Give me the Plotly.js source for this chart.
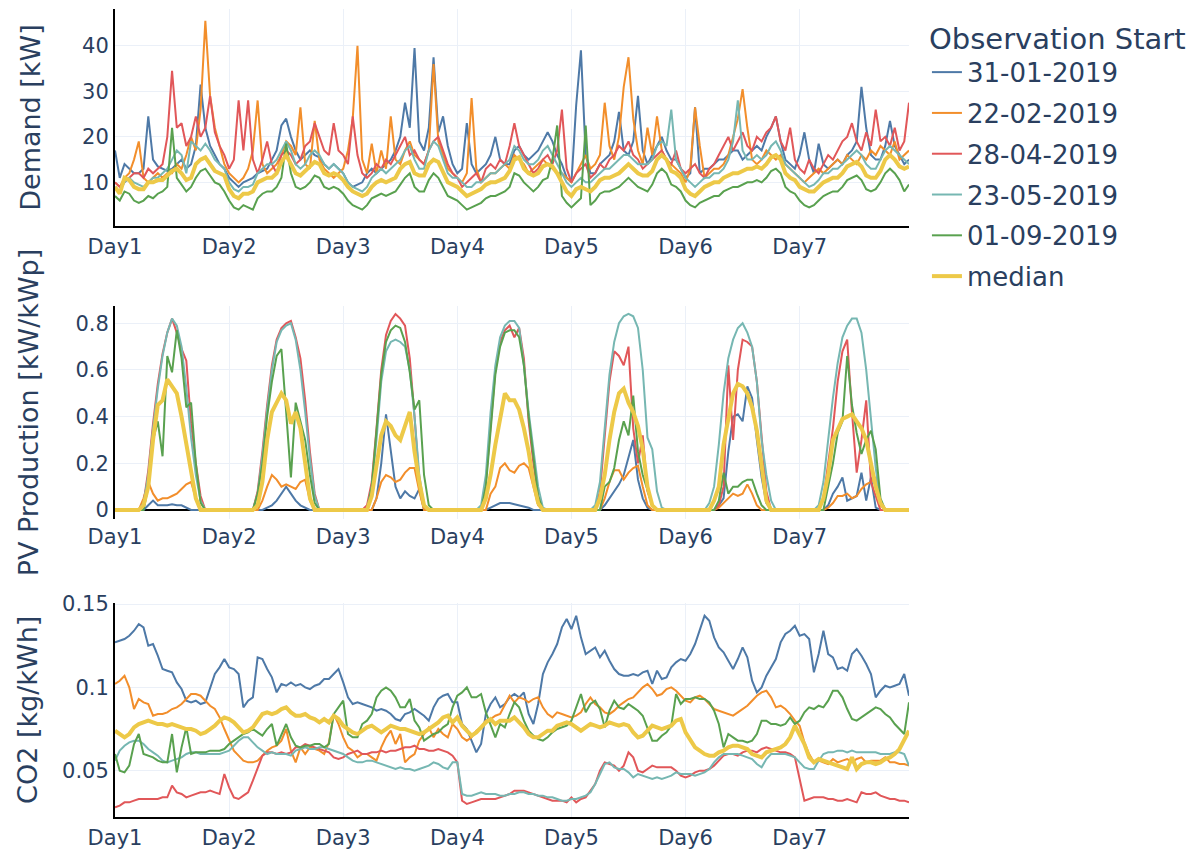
<!DOCTYPE html>
<html>
<head>
<meta charset="utf-8">
<script src="https://cdn.plot.ly/plotly-3.0.1.min.js"></script>
<style>html,body{margin:0;padding:0;background:#fff;}#chart{width:1201px;height:854px;}</style>
</head>
<body>
<div id="chart"></div>
<script>
// ---------- categories ----------
const seriesNames = ['31-01-2019', '22-02-2019', '28-04-2019', '23-05-2019', '01-09-2019', 'median'];
const dayTickVals = [0, 24, 48, 72, 96, 120, 144];
const dayTickText = ['Day1', 'Day2', 'Day3', 'Day4', 'Day5', 'Day6', 'Day7'];

// ---------- Demand [kW], hourly, one row per day ----------
const demand_3101 = [
17,11,14,13,12,12,13,24.5,15,13.5,13,12.5,13,14,15,13,14,18,31.5,22,18,16,14,13,
11,10,9,10,10.5,11,12,12.5,13,15,17,22.5,24,20,17,15,16,17,16,15.5,14,13,14,13,
12,10,9,9.5,10,12,13,12,13,14,15,17,20,27.5,22,39.5,19,17,22,37.5,21,24.5,18,14,
12,13,23,14,12,13,14,16,20,15,14,14,17,18,16,15,16,17,19,21,19,16,14,11,
10,27,39,16,12,12,14,15,16,19,25.5,17,16,19,29,17,14,16,18,20,17,15,15,13,
11,12,26.5,12,13,13,14,15,15,16,17,17,15,16,17,18,17,20,22,24.5,19,15,14,13,
16,21,15,12,18.5,14,13,14,15,14,16,17,19,31,22,16,15,15,18,23.5,18,16,14,15];
const demand_2202 = [
10,9,11,12,15,19,11,10,11,12,11,12,12,14,13,16,20,17,26,45.5,29,22,18,14,
12,11,10,11,13,17,28,14,12,13,14,16,19,18,16,26.5,14,13,23.5,15,13,12,11,12,
13,17,24,40,15,12,18.5,12,17,13,24.5,15,14,17,19,16,15,14,17,36,19,16,13,12,
11,10,12,28.5,13,10,11,12,12,13,14,13,16,15,14,12,13,14,15,14,13,12,12,11,
10,12,14,16,13,14,16,27.5,18,15,20,31,37.5,24,17,14,22,16,24.5,17,15,14,13,12,
10,13,26.5,18,11,12,13,13,14,16,20,24,30.5,22,15,14,15,17,16,15,16,14,13,12,
11,10,11,12,13,12,13,14,15,14,16,15,14,16,15,17,16,18,17,16,19,15,16,17];
const demand_2804 = [
10,9,10,11,12,12,11,13,12,13,14,20,34.5,22,23,18,20,24.5,20,22,29,21,18,16,
13,15,28,17,28,15,12,15,19,14,12,16,17,16,14,15,18,19,23,20,17,16,23,17,
16,14,24.5,16,12,11,12,14,13,15,14,16,18,20,16,17,15,14,17,19,20,17,14,12,
11,9,10,11,12,10,13,14,13,15,14,18,23,18,16,14,12,13,15,16,14,17,26,13,
10,12,13,14,11,12,14,13,15,16,18,17,19,16,15,13,14,15,16,17,15,14,17,13,
12,13,14,12,11,13,14,16,18,20,17,19,21,18,17,20,19,21,22,24.5,19,17,22,15,
13,12,15,13,12,14,16,15,17,19,20,23,19,17,21,18,26,19,20,18,22,17,19,27.5];
const demand_2305 = [
9,8,10,11,10,9.5,9,10,11,11,12,13,15,17,16,12,19,18,17,18.5,17,15,14,13,
10,8.5,8,9,9,9.5,12,13,14,14,15,17,19,17,14,13,14,16,17,16,14,13,14,13,
12,10,9,8.5,8,9,11,12,13,12,13,14,15,17,18,15,13,13,17,19,18,15,12,11,
11,10,9,9,10,10,11,12,12,13,14,15,18,17,15,14,14,15,17,18,16,14,12,10,
9,10,11,10,10,11,12,13,13,14,15,16,16,15,14,14,14,15,18,19,18,26,15,13,
11,10,9,10,11,11,12,12,13,15,19,28,17,15,15,16,15,16,18,19,17,14,13,12,
11,10,9,9.5,10.5,12,12,13,13,14,15,16,17,16,14,13,13,15,17,18,17,16,15,14];
const demand_0109 = [
7,6,8,7.5,6,5.5,6,7,6.5,7.5,8,9,22,11,9.5,8,9,11,12.5,13,11.5,10,9.5,8,
6,4.5,4,5,4.5,4,6.5,7.5,8,8,9,11,18.5,12,9,8.5,9,10,11.5,11,9,8.5,9,8.5,
7.5,6,5,4.5,4,5,6.5,7,7.5,7,7.5,8,9.5,11,12,9,8,8,10.5,12,11,9,7,6.5,
6,5,4,4.5,5,5.5,6.5,7,7,7.5,8,9,12,11.5,10,9,8,9,10.5,11,15,22.5,7,5.5,
4.5,5.5,6.5,22.5,5,6,7.5,8,8,8.5,9,10,11,10,9,8.5,8,9.5,12,13,12,9.5,9,8,
6,5,4.5,5.5,6,6.5,7,7,8,8.5,9,9,9.5,10,10,10.5,10,11,12.5,13,12,9,8,7.5,
6,5,4.5,5,6,7,7.5,8,8,9,10.5,11,11.5,10.5,8.5,8,8.5,10,12,13,12,10.5,8,9.5];
const demand_median = [
9,7.5,11,10.5,9,8.5,8.5,10,10,10.5,10.5,11.5,12.5,13,12,10.5,11,14,15,15.5,14,12.5,12,11.5,
8.5,7,6.5,7.5,7.5,8,10,10.5,11,11,12,14.5,16,14,12,11.5,12.5,13.5,14.5,14,12,11.5,12,11.5,
10.5,9,8,7.5,7,7.5,9,10,10.5,10,10.5,11,13,14,14.5,12,11.5,11.5,14,15,14.5,12,10,9.5,
9,8,7,7.5,8,8.5,9.5,10,10,10.5,11,12.5,15,15.5,13,12,11.5,12,13.5,14,13.5,12,10,8,
7,8.5,9,8.5,8,9,10.5,11,11,11.5,12,13,14,13,12,11.5,11.5,12.5,15,16,15,12.5,12,11,
8.5,7.5,7,8,9,9.5,10,10,11,11.5,12,12,12.5,13,13,13.5,13,14,15.5,16,15,12,11,10.5,
9,8.5,8,8,9,10,10.5,11,11,12,13.5,14,14.5,13.5,11.5,11,11,12.5,15,16,15,13.5,13,13.5];

// ---------- PV Production [kW/kWp], hourly ----------
const pv_3101 = [
0,0,0,0,0,0,0,0.02,0.04,0.02,0.02,0.02,0.025,0.02,0.02,0.01,0,0,0,0,0,0,0,0,
0,0,0,0,0,0,0,0,0.01,0.02,0.04,0.07,0.1,0.07,0.04,0.02,0.01,0,0,0,0,0,0,0,
0,0,0,0,0,0,0,0.05,0.2,0.41,0.25,0.1,0.05,0.08,0.06,0.05,0.09,0,0,0,0,0,0,0,
0,0,0,0,0,0,0,0.01,0.02,0.03,0.03,0.03,0.025,0.02,0.015,0.01,0,0,0,0,0,0,0,0,
0,0,0,0,0,0,0,0.02,0.05,0.08,0.11,0.15,0.22,0.3,0.13,0.05,0.01,0,0,0,0,0,0,0,
0,0,0,0,0,0,0,0.02,0.05,0.25,0.4,0.41,0.38,0.53,0.48,0.3,0.14,0.03,0,0,0,0,0,0,
0,0,0,0,0,0,0.02,0.07,0.1,0.14,0.04,0.05,0.06,0.16,0.04,0.14,0.01,0,0,0,0,0,0,0];
const pv_2202 = [
0,0,0,0,0,0,0.05,0.12,0.07,0.04,0.05,0.05,0.06,0.07,0.09,0.11,0.12,0.05,0,0,0,0,0,0,
0,0,0,0,0,0,0,0.04,0.1,0.15,0.13,0.1,0.11,0.1,0.09,0.12,0.13,0.04,0,0,0,0,0,0,
0,0,0,0,0,0,0,0.05,0.12,0.15,0.14,0.12,0.13,0.16,0.18,0.18,0.08,0,0,0,0,0,0,0,
0,0,0,0,0,0,0,0.07,0.1,0.18,0.2,0.17,0.16,0.19,0.2,0.18,0.1,0.02,0,0,0,0,0,0,
0,0,0,0,0,0,0,0.05,0.12,0.17,0.17,0.13,0.16,0.18,0.19,0.1,0.02,0,0,0,0,0,0,0,
0,0,0,0,0,0,0,0.01,0.03,0.05,0.07,0.06,0.07,0.11,0.07,0.02,0,0,0,0,0,0,0,0,
0,0,0,0,0,0,0.01,0.03,0.06,0.06,0.07,0.05,0.06,0.09,0.11,0.12,0.14,0.02,0,0,0,0,0,0];
const pv_2804 = [
0,0,0,0,0,0,0.03,0.17,0.37,0.54,0.67,0.76,0.82,0.76,0.69,0.64,0.37,0.2,0.06,0,0,0,0,0,
0,0,0,0,0,0,0.08,0.25,0.45,0.62,0.73,0.78,0.8,0.81,0.74,0.65,0.47,0.25,0.07,0,0,0,0,0,
0,0,0,0,0,0.02,0.12,0.35,0.6,0.75,0.81,0.84,0.82,0.79,0.65,0.4,0.12,0.02,0,0,0,0,0,0,
0,0,0,0,0,0,0.12,0.38,0.6,0.72,0.77,0.79,0.74,0.78,0.65,0.38,0.2,0.06,0,0,0,0,0,0,
0,0,0,0,0,0,0.08,0.3,0.55,0.68,0.66,0.62,0.7,0.35,0.2,0.32,0.08,0.02,0,0,0,0,0,0,
0,0,0,0,0,0,0,0.02,0.1,0.62,0.3,0.6,0.73,0.72,0.7,0.55,0.3,0.08,0,0,0,0,0,0,
0,0,0,0,0,0.05,0.2,0.35,0.55,0.68,0.73,0.42,0.16,0.3,0.47,0.12,0.06,0,0,0,0,0,0,0];
const pv_2305 = [
0,0,0,0,0,0,0.03,0.15,0.35,0.52,0.66,0.76,0.82,0.79,0.7,0.52,0.31,0.15,0.04,0,0,0,0,0,
0,0,0,0,0,0,0.07,0.23,0.43,0.6,0.72,0.77,0.79,0.8,0.73,0.6,0.42,0.22,0.06,0,0,0,0,0,
0,0,0,0,0,0,0.1,0.3,0.55,0.68,0.72,0.73,0.72,0.7,0.6,0.4,0.15,0.02,0,0,0,0,0,0,
0,0,0,0,0,0.02,0.15,0.42,0.62,0.74,0.79,0.81,0.81,0.78,0.62,0.42,0.26,0.1,0.01,0,0,0,0,0,
0,0,0,0,0,0.02,0.12,0.35,0.58,0.72,0.8,0.83,0.84,0.83,0.78,0.6,0.31,0.26,0.08,0.01,0,0,0,0,
0,0,0,0,0,0.03,0.1,0.28,0.5,0.65,0.73,0.78,0.8,0.76,0.7,0.55,0.3,0.15,0.04,0,0,0,0,0,
0,0,0,0,0.02,0.12,0.3,0.48,0.63,0.74,0.79,0.82,0.82,0.76,0.6,0.38,0.18,0.03,0,0,0,0,0,0];
const pv_0109 = [
0,0,0,0,0,0,0,0.1,0.3,0.38,0.23,0.66,0.59,0.77,0.65,0.44,0.46,0.2,0.03,0,0,0,0,0,
0,0,0,0,0,0,0.07,0.2,0.4,0.55,0.66,0.69,0.42,0.14,0.46,0.38,0.3,0.15,0.03,0,0,0,0,0,
0,0,0,0,0,0,0.1,0.33,0.58,0.72,0.77,0.79,0.78,0.72,0.59,0.43,0.47,0.15,0.02,0,0,0,0,0,
0,0,0,0,0,0,0.1,0.35,0.58,0.7,0.76,0.77,0.77,0.74,0.62,0.4,0.22,0.06,0,0,0,0,0,0,
0,0,0,0,0,0,0,0.1,0.12,0.18,0.3,0.38,0.32,0.49,0.25,0.15,0.08,0.02,0,0,0,0,0,0,
0,0,0,0,0,0,0,0.04,0.16,0.07,0.1,0.1,0.12,0.13,0.13,0.07,0.02,0,0,0,0,0,0,0,
0,0,0,0,0,0,0.1,0.2,0.33,0.38,0.66,0.45,0.33,0.24,0.3,0.34,0.26,0.05,0,0,0,0,0,0];
const pv_median = [
0,0,0,0,0,0,0.02,0.1,0.3,0.45,0.47,0.56,0.53,0.5,0.4,0.28,0.15,0.05,0,0,0,0,0,0,
0,0,0,0,0,0,0.02,0.12,0.3,0.42,0.46,0.5,0.47,0.37,0.42,0.35,0.2,0.05,0,0,0,0,0,0,
0,0,0,0,0,0,0.06,0.2,0.32,0.38,0.36,0.32,0.3,0.36,0.42,0.25,0.12,0.02,0,0,0,0,0,0,
0,0,0,0,0,0,0.05,0.15,0.28,0.4,0.5,0.47,0.47,0.43,0.35,0.25,0.12,0.03,0,0,0,0,0,0,
0,0,0,0,0,0,0.05,0.15,0.3,0.42,0.5,0.52,0.46,0.42,0.36,0.26,0.1,0.02,0,0,0,0,0,0,
0,0,0,0,0,0,0.04,0.1,0.28,0.4,0.5,0.54,0.53,0.5,0.44,0.34,0.18,0.04,0,0,0,0,0,0,
0,0,0,0,0,0.05,0.15,0.3,0.35,0.39,0.4,0.41,0.38,0.35,0.3,0.2,0.1,0.03,0,0,0,0,0,0];

// ---------- CO2 [kg/kWh], hourly ----------
const co2_3101 = [
0.127,0.128,0.129,0.131,0.134,0.138,0.136,0.125,0.126,0.119,0.111,0.110,0.109,0.103,0.099,0.092,0.091,0.092,0.090,0.091,0.100,0.108,0.112,0.117,
0.112,0.111,0.108,0.088,0.092,0.094,0.118,0.117,0.111,0.106,0.097,0.102,0.101,0.103,0.101,0.102,0.100,0.099,0.101,0.102,0.105,0.105,0.108,0.111,
0.103,0.094,0.090,0.091,0.090,0.089,0.088,0.086,0.087,0.086,0.084,0.081,0.080,0.084,0.085,0.087,0.085,0.083,0.080,0.088,0.093,0.095,0.096,0.091,
0.091,0.078,0.075,0.068,0.061,0.066,0.084,0.090,0.094,0.088,0.090,0.094,0.096,0.094,0.097,0.084,0.078,0.090,0.108,0.115,0.120,0.126,0.136,0.141,
0.135,0.143,0.130,0.120,0.122,0.124,0.118,0.122,0.116,0.111,0.108,0.107,0.107,0.108,0.107,0.109,0.110,0.102,0.110,0.105,0.106,0.112,0.115,0.117,
0.116,0.120,0.126,0.134,0.143,0.140,0.130,0.124,0.121,0.116,0.111,0.117,0.124,0.118,0.104,0.097,0.100,0.107,0.112,0.117,0.127,0.132,0.134,0.137,
0.131,0.132,0.129,0.109,0.120,0.134,0.120,0.118,0.111,0.112,0.110,0.120,0.123,0.119,0.114,0.108,0.094,0.098,0.101,0.100,0.101,0.102,0.108,0.095];
const co2_2202 = [
0.102,0.104,0.107,0.100,0.087,0.093,0.091,0.090,0.083,0.084,0.084,0.085,0.087,0.088,0.090,0.093,0.096,0.096,0.095,0.092,0.089,0.087,0.082,0.075,
0.069,0.062,0.059,0.056,0.055,0.055,0.056,0.059,0.062,0.064,0.065,0.068,0.075,0.062,0.055,0.064,0.060,0.064,0.063,0.062,0.060,0.067,0.084,0.078,
0.070,0.064,0.062,0.058,0.060,0.060,0.058,0.056,0.064,0.070,0.074,0.066,0.072,0.055,0.058,0.060,0.068,0.072,0.076,0.070,0.075,0.072,0.070,0.078,
0.075,0.070,0.068,0.070,0.074,0.076,0.080,0.081,0.083,0.084,0.090,0.095,0.091,0.094,0.093,0.091,0.093,0.094,0.088,0.084,0.082,0.085,0.084,0.083,
0.082,0.083,0.085,0.090,0.094,0.090,0.088,0.085,0.084,0.086,0.089,0.091,0.093,0.094,0.097,0.100,0.102,0.099,0.095,0.096,0.099,0.100,0.098,0.095,
0.092,0.091,0.094,0.095,0.093,0.090,0.087,0.086,0.085,0.084,0.083,0.085,0.087,0.089,0.092,0.095,0.097,0.098,0.094,0.088,0.089,0.087,0.084,0.080,
0.077,0.067,0.060,0.055,0.056,0.055,0.054,0.057,0.055,0.056,0.057,0.055,0.057,0.058,0.055,0.056,0.056,0.056,0.058,0.055,0.055,0.054,0.054,0.053];
const co2_2804 = [
0.028,0.029,0.031,0.031,0.032,0.033,0.033,0.033,0.033,0.033,0.034,0.034,0.041,0.037,0.036,0.034,0.035,0.036,0.037,0.037,0.038,0.037,0.036,0.048,
0.040,0.034,0.033,0.035,0.037,0.044,0.051,0.059,0.061,0.061,0.060,0.061,0.060,0.061,0.064,0.064,0.066,0.065,0.064,0.063,0.062,0.061,0.058,0.057,
0.058,0.060,0.061,0.062,0.060,0.060,0.061,0.061,0.062,0.061,0.062,0.062,0.063,0.064,0.064,0.065,0.063,0.063,0.062,0.062,0.063,0.062,0.061,0.059,
0.055,0.032,0.030,0.031,0.032,0.033,0.033,0.033,0.033,0.034,0.035,0.036,0.038,0.038,0.038,0.037,0.036,0.035,0.034,0.033,0.032,0.032,0.032,0.031,
0.034,0.031,0.033,0.034,0.038,0.042,0.050,0.055,0.054,0.053,0.050,0.053,0.061,0.058,0.050,0.049,0.051,0.053,0.052,0.052,0.052,0.052,0.050,0.047,
0.046,0.047,0.049,0.050,0.050,0.051,0.053,0.056,0.059,0.060,0.060,0.059,0.061,0.062,0.062,0.061,0.063,0.064,0.063,0.062,0.061,0.061,0.060,0.058,
0.045,0.032,0.033,0.034,0.034,0.034,0.033,0.033,0.032,0.032,0.033,0.032,0.031,0.037,0.036,0.036,0.037,0.035,0.034,0.033,0.033,0.032,0.032,0.031];
const co2_2305 = [
0.056,0.062,0.065,0.067,0.068,0.068,0.066,0.063,0.061,0.059,0.056,0.055,0.056,0.057,0.058,0.060,0.061,0.061,0.060,0.060,0.060,0.060,0.060,0.061,
0.062,0.065,0.068,0.070,0.070,0.067,0.064,0.062,0.060,0.061,0.060,0.060,0.060,0.059,0.062,0.063,0.064,0.063,0.063,0.064,0.064,0.063,0.062,0.061,
0.060,0.058,0.056,0.055,0.055,0.056,0.056,0.055,0.054,0.053,0.052,0.051,0.052,0.051,0.051,0.050,0.051,0.052,0.053,0.055,0.054,0.052,0.051,0.055,
0.055,0.036,0.035,0.035,0.036,0.037,0.036,0.036,0.036,0.035,0.035,0.036,0.036,0.037,0.037,0.036,0.036,0.035,0.035,0.034,0.034,0.033,0.032,0.032,
0.033,0.033,0.034,0.035,0.037,0.042,0.048,0.054,0.055,0.052,0.051,0.051,0.049,0.046,0.048,0.047,0.046,0.045,0.046,0.045,0.046,0.047,0.049,0.048,
0.048,0.048,0.047,0.048,0.049,0.051,0.055,0.058,0.060,0.060,0.060,0.060,0.059,0.058,0.057,0.054,0.052,0.057,0.060,0.060,0.060,0.060,0.059,0.058,
0.055,0.052,0.051,0.051,0.056,0.060,0.061,0.061,0.062,0.062,0.061,0.062,0.061,0.061,0.061,0.061,0.061,0.060,0.060,0.060,0.061,0.061,0.060,0.053];
const co2_0109 = [
0.060,0.050,0.049,0.053,0.066,0.072,0.060,0.059,0.058,0.056,0.055,0.055,0.072,0.049,0.064,0.076,0.060,0.061,0.061,0.061,0.062,0.062,0.062,0.063,
0.066,0.068,0.070,0.072,0.073,0.075,0.073,0.071,0.075,0.078,0.065,0.072,0.078,0.070,0.065,0.064,0.065,0.065,0.066,0.066,0.064,0.066,0.084,0.088,
0.092,0.072,0.070,0.070,0.078,0.080,0.084,0.094,0.098,0.100,0.098,0.094,0.088,0.088,0.093,0.080,0.076,0.068,0.070,0.072,0.073,0.076,0.078,0.088,
0.095,0.097,0.100,0.094,0.094,0.096,0.085,0.077,0.070,0.078,0.076,0.084,0.091,0.088,0.080,0.074,0.071,0.069,0.068,0.070,0.073,0.075,0.076,0.077,
0.080,0.088,0.096,0.085,0.090,0.092,0.087,0.076,0.086,0.092,0.088,0.087,0.090,0.088,0.086,0.083,0.075,0.068,0.068,0.071,0.073,0.077,0.096,0.090,
0.093,0.093,0.094,0.093,0.093,0.091,0.086,0.078,0.064,0.072,0.070,0.068,0.068,0.067,0.068,0.072,0.080,0.080,0.078,0.078,0.077,0.078,0.082,0.078,
0.080,0.085,0.088,0.087,0.089,0.088,0.092,0.098,0.098,0.094,0.087,0.081,0.080,0.082,0.084,0.086,0.088,0.087,0.084,0.082,0.078,0.075,0.072,0.091];
const co2_median = [
0.074,0.072,0.070,0.072,0.076,0.078,0.079,0.080,0.079,0.078,0.078,0.077,0.078,0.077,0.076,0.075,0.075,0.074,0.072,0.073,0.075,0.077,0.080,0.082,
0.081,0.079,0.076,0.073,0.074,0.076,0.080,0.084,0.085,0.084,0.085,0.087,0.088,0.085,0.083,0.083,0.084,0.082,0.081,0.079,0.081,0.079,0.083,0.081,
0.077,0.075,0.073,0.072,0.074,0.076,0.077,0.075,0.073,0.075,0.077,0.076,0.075,0.075,0.074,0.073,0.072,0.073,0.075,0.077,0.079,0.082,0.083,0.079,
0.082,0.077,0.074,0.071,0.073,0.076,0.079,0.081,0.078,0.080,0.080,0.080,0.082,0.079,0.076,0.072,0.070,0.070,0.072,0.074,0.074,0.077,0.078,0.079,
0.078,0.076,0.074,0.076,0.078,0.077,0.076,0.077,0.079,0.078,0.077,0.078,0.077,0.073,0.070,0.071,0.074,0.077,0.076,0.075,0.076,0.077,0.080,0.081,
0.073,0.068,0.064,0.062,0.060,0.059,0.059,0.061,0.062,0.064,0.065,0.065,0.064,0.063,0.060,0.059,0.058,0.061,0.062,0.063,0.064,0.066,0.070,0.077,
0.072,0.066,0.058,0.055,0.057,0.056,0.055,0.054,0.053,0.052,0.051,0.058,0.051,0.054,0.055,0.055,0.054,0.055,0.057,0.058,0.060,0.063,0.068,0.074];

// ---------- assembly ----------
const demandSeries = [demand_3101, demand_2202, demand_2804, demand_2305, demand_0109, demand_median];
const pvSeries = [pv_3101, pv_2202, pv_2804, pv_2305, pv_0109, pv_median];
const co2Series = [co2_3101, co2_2202, co2_2804, co2_2305, co2_0109, co2_median];
const colors = ['#4e79a7', '#f28e2b', '#e15759', '#76b7b2', '#59a14f', '#edc948'];
const hours = demand_median.map((_, i) => i);

const FONT = 'DejaVu Sans, Verdana, sans-serif';
const TXT = '#2a3f5f';

const traces = [];
[[demandSeries, 'x', 'y'], [pvSeries, 'x2', 'y2'], [co2Series, 'x3', 'y3']].forEach(([set, xa, ya], p) => {
  set.forEach((vals, i) => {
    traces.push({
      type: 'scatter', mode: 'lines', x: hours, y: vals, xaxis: xa, yaxis: ya,
      name: seriesNames[i], legendgroup: seriesNames[i], showlegend: p === 0,
      line: {color: colors[i], width: i === 5 ? 4 : 2},
      hoverinfo: 'skip'
    });
  });
});

function xax(anchor, showline, standoff) {
  return {
    anchor: anchor, range: [0, 167], tickvals: dayTickVals, ticktext: dayTickText,
    showgrid: true, gridcolor: '#EBF0F8', gridwidth: 1, zeroline: false,
    showline: showline, linecolor: 'black', linewidth: 2, ticks: '',
    ticklabelstandoff: standoff,
    tickfont: {family: FONT, size: 21, color: TXT}
  };
}
function yax(anchor, domain, range, dtick, title, standoff) {
  return {
    anchor: anchor, domain: domain, range: range, dtick: dtick,
    showgrid: true, gridcolor: '#EBF0F8', gridwidth: 1, zeroline: false,
    showline: true, linecolor: 'black', linewidth: 2, ticks: '',
    tickfont: {family: FONT, size: 21, color: TXT},
    title: {text: title, font: {family: FONT, size: 27, color: TXT}, standoff: standoff}
  };
}

const layout = {
  width: 1201, height: 854,
  paper_bgcolor: '#ffffff', plot_bgcolor: '#ffffff',
  margin: {l: 115, r: 292, t: 9, b: 37},
  font: {family: FONT, color: TXT},
  xaxis: xax('y', true, 1),
  xaxis2: xax('y2', false, 3),
  xaxis3: xax('y3', true, 1),
  yaxis: yax('x', [0.7314, 1], [0.4, 48.1], 10, 'Demand [kW]', 34),
  yaxis2: Object.assign(yax('x2', [0.3688, 0.6324], [-0.0386, 0.874], 0.2, 'PV Production [kW/kWp]', 29),
                        {zeroline: true, zerolinecolor: 'black', zerolinewidth: 2}),
  yaxis3: yax('x3', [0, 0.2652], [0.0222, 0.1508], 0.05, 'CO2 [kg/kWh]', 17),
  legend: {
    x: 1.0226, xanchor: 'left', y: 0.9975, yanchor: 'top',
    traceorder: 'grouped', tracegroupgap: 4,
    font: {family: FONT, size: 26, color: TXT},
    title: {text: 'Observation Start', font: {family: FONT, size: 29, color: TXT}},
    bgcolor: 'rgba(0,0,0,0)'
  }
};

Plotly.newPlot('chart', traces, layout, {displayModeBar: false, staticPlot: true});
</script>
</body>
</html>
